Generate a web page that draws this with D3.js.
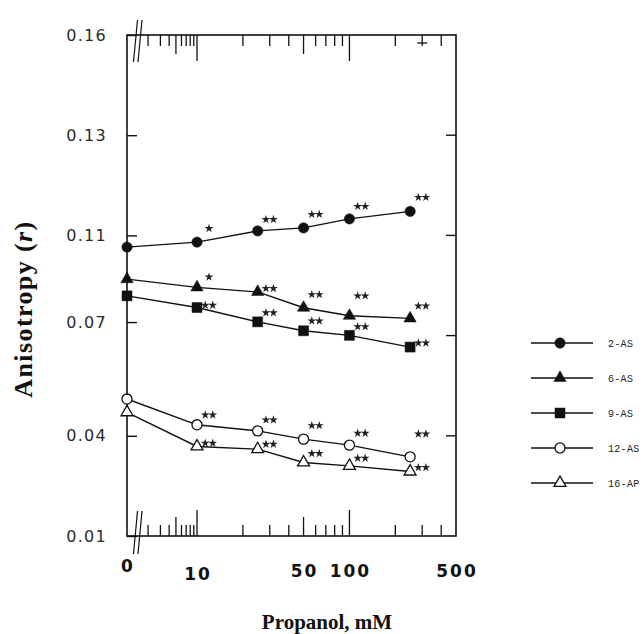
<!DOCTYPE html>
<html>
<head>
<meta charset="utf-8">
<script src="https://cdn.jsdelivr.net/npm/d3@7"></script>
<style>
  html, body { margin: 0; padding: 0; background: #fff; }
  svg { display: block; }
</style>
</head>
<body>
<div id="chart"></div>
<script>
// ---------------- data ----------------
const concentrations = [0, 10, 25, 50, 100, 250];           // Propanol, mM
const seriesNames = ["2-AS", "6-AS", "9-AS", "12-AS", "16-AP"];
const r2AS  = [0.1046, 0.1069, 0.1109, 0.1115, 0.1133, 0.1148];
const r6AS  = [0.0898, 0.0860, 0.0839, 0.0766, 0.0729, 0.0717];
const r9AS  = [0.0821, 0.0767, 0.0701, 0.0677, 0.0665, 0.0634];
const r12AS = [0.0497, 0.0429, 0.0413, 0.0390, 0.0372, 0.0337];
const r16AP = [0.0462, 0.0368, 0.0360, 0.0320, 0.0310, 0.0293];
// significance marks and where they sit (anisotropy units)
const sig2AS  = ["", "*", "**", "**", "**", "**"];
const sig6AS  = ["", "*", "**", "**", "**", "**"];
const sig9AS  = ["", "**", "**", "**", "**", "**"];
const sig12AS = ["", "**", "**", "**", "**", "**"];
const sig16AP = ["", "**", "**", "**", "**", "**"];
const star2AS  = [null, 0.1114, 0.1132, 0.1142, 0.1158, 0.1176];
const star6AS  = [null, 0.0908, 0.0855, 0.0827, 0.0821, 0.0774];
const star9AS  = [null, 0.0778, 0.0743, 0.0705, 0.0688, 0.0645];
const star12AS = [null, 0.0455, 0.0442, 0.0427, 0.0407, 0.0405];
const star16AP = [null, 0.0378, 0.0375, 0.0347, 0.0333, 0.0305];
// axes
const yTickValues = [0.01, 0.04, 0.07, 0.11, 0.13, 0.16];
const yTickLabels = ["0.01", "0.04", "0.07", "0.11", "0.13", "0.16"];
const xTickValues = [0, 10, 50, 100, 500];
const xTickLabels = ["0", "10", "50", "100", "500"];
const xLowMinor  = [2, 3, 4, 5, 6, 7, 8, 9];
const xMainMinor = [20, 30, 40, 50, 60, 70, 80, 90, 200, 300, 400];
const xMediumTicks = [5, 50];
const xLongTicks = [10, 100];

// ---------------- layout ----------------
const W = 643, H = 634;
const pLeft = 127, pRight = 456, pTop = 35, pBottom = 536;
const lowWidth = 70;

const svg = d3.select("#chart").append("svg")
  .attr("width", W).attr("height", H)
  .style("background", "#fff");

const xLow  = d3.scaleLog().domain([1, 10]).range([pLeft, pLeft + lowWidth]);
const xMain = d3.scaleLog().domain([10, 500]).range([pLeft + lowWidth, pRight]);
const x = v => v === 0 ? pLeft : (v < 10 ? xLow(v) : xMain(v));

const yFrac = [0, 0.2, 0.427, 0.6, 0.8, 1];
const y = d3.scaleLinear()
  .domain(yTickValues)
  .range(yFrac.map(f => pBottom - f * (pBottom - pTop)));

const ink = "#111";

// frame
svg.append("rect")
  .attr("x", pLeft).attr("y", pTop)
  .attr("width", pRight - pLeft).attr("height", pBottom - pTop)
  .attr("fill", "none").attr("stroke", ink).attr("stroke-width", 1.6);

// left axis with labels
const yAxis = d3.axisLeft(y)
  .tickValues(yTickValues)
  .tickFormat((d, i) => yTickLabels[i])
  .tickSizeInner(-10).tickSizeOuter(0).tickPadding(20);
const gy = svg.append("g").attr("transform", `translate(${pLeft},0)`).call(yAxis);
gy.select(".domain").remove();
gy.selectAll(".tick line").attr("stroke", ink).attr("stroke-width", 1.4);
gy.selectAll(".tick text")
  .attr("font-family", "DejaVu Sans, sans-serif")
  .attr("font-size", 16).attr("letter-spacing", 1.3)
  .attr("fill", "#2a2a2a");

// right axis ticks (inward)
const rightFrac = [0.2, 0.4, 0.6, 0.8];
svg.append("g").selectAll("line").data(rightFrac).join("line")
  .attr("x1", pRight).attr("x2", pRight - 10)
  .attr("y1", f => pBottom - f * (pBottom - pTop))
  .attr("y2", f => pBottom - f * (pBottom - pTop))
  .attr("stroke", ink).attr("stroke-width", 1.4);

// x ticks on top & bottom
function tickLen(v) {
  if (xLongTicks.includes(v)) return 26;
  if (xMediumTicks.includes(v)) return 19;
  return 11;
}
const allXTicks = xLowMinor.concat(xLongTicks, xMainMinor);
["bottom", "top"].forEach(side => {
  const y0 = side === "bottom" ? pBottom : pTop;
  const dir = side === "bottom" ? -1 : 1;
  svg.append("g").selectAll("line").data(allXTicks).join("line")
    .attr("x1", d => x(d)).attr("x2", d => x(d))
    .attr("y1", y0).attr("y2", d => y0 + dir * tickLen(d))
    .attr("stroke", ink).attr("stroke-width", 1.3);
});
// small crossbar on the top 300 tick
svg.append("line")
  .attr("x1", x(300) - 5).attr("x2", x(300) + 5)
  .attr("y1", pTop + 8).attr("y2", pTop + 8)
  .attr("stroke", ink).attr("stroke-width", 1.3);

// axis break marks
[[pTop, -15, 27], [pBottom, -25, 18]].forEach(([yb, a, b]) => {
  [0, 4.5].forEach(off => {
    svg.append("line")
      .attr("x1", pLeft + 10.5 + off).attr("y1", yb + a)
      .attr("x2", pLeft + 6.5 + off).attr("y2", yb + b)
      .attr("stroke", ink).attr("stroke-width", 1.2);
  });
});

// x tick labels
svg.append("g").selectAll("text").data(xTickValues).join("text")
  .attr("x", d => x(d) + 1)
  .attr("y", (d, i) => i === 0 ? 572 : (i === 1 ? 580 : 577))
  .attr("text-anchor", "middle")
  .attr("font-family", "DejaVu Sans, sans-serif")
  .attr("font-weight", "bold")
  .attr("font-size", 17).attr("letter-spacing", 2)
  .attr("fill", ink)
  .text((d, i) => xTickLabels[i]);

// axis titles
svg.append("text")
  .attr("x", 327).attr("y", 629)
  .attr("text-anchor", "middle")
  .attr("font-family", "Liberation Serif, Times New Roman, serif")
  .attr("font-weight", "bold").attr("font-size", 21)
  .attr("fill", ink)
  .text("Propanol, mM");

const yt = svg.append("text")
  .attr("font-family", "Liberation Serif, Times New Roman, serif")
  .attr("font-weight", "bold").attr("font-size", 26)
  .attr("letter-spacing", 1.4)
  .attr("fill", ink);
yt.append("tspan").text("Anisotropy (");
yt.append("tspan").attr("font-style", "italic").text("r");
yt.append("tspan").text(")");
const ytLen = yt.node().getComputedTextLength();
yt.attr("transform", `translate(32,${309 + ytLen / 2}) rotate(-90)`);

// ---------------- series ----------------
const seriesValues = [r2AS, r6AS, r9AS, r12AS, r16AP];
const seriesSig = [sig2AS, sig6AS, sig9AS, sig12AS, sig16AP];
const seriesStar = [star2AS, star6AS, star9AS, star12AS, star16AP];
const seriesSymbol = [d3.symbolCircle, d3.symbolTriangle, d3.symbolSquare, d3.symbolCircle, d3.symbolTriangle];
const seriesSize = [85, 66, 100, 80, 62];
const seriesFilled = [true, true, true, false, false];

const line = d3.line().x(d => x(d[0])).y(d => y(d[1]));

seriesValues.forEach((vals, s) => {
  const pts = concentrations.map((c, i) => [c, vals[i]]);
  svg.append("path").datum(pts)
    .attr("d", line).attr("fill", "none")
    .attr("stroke", ink).attr("stroke-width", 1.4);
});
seriesValues.forEach((vals, s) => {
  const pts = concentrations.map((c, i) => [c, vals[i]]);
  svg.append("g").selectAll("path").data(pts).join("path")
    .attr("transform", d => `translate(${x(d[0])},${y(d[1])})`)
    .attr("d", d3.symbol().type(seriesSymbol[s]).size(seriesSize[s]))
    .attr("fill", seriesFilled[s] ? ink : "#fff")
    .attr("stroke", ink).attr("stroke-width", seriesFilled[s] ? 0.5 : 1.3);
});

// significance stars
const starSym = d3.symbol().type(d3.symbolStar).size(24);
seriesValues.forEach((vals, s) => {
  concentrations.forEach((c, i) => {
    const mark = seriesSig[s][i];
    if (!mark) return;
    const cx = x(c) + 12, cy = y(seriesStar[s][i]);
    const n = mark.length;
    for (let k = 0; k < n; k++) {
      svg.append("path")
        .attr("transform", `translate(${cx + (k - (n - 1) / 2) * 7.5},${cy})`)
        .attr("d", starSym())
        .attr("fill", "#222");
    }
  });
});

// ---------------- legend ----------------
const legY = d3.scalePoint().domain(seriesNames).range([343, 483]);
const lg = svg.append("g");
seriesNames.forEach((name, s) => {
  const yy = legY(name);
  lg.append("line").attr("x1", 531).attr("x2", 593)
    .attr("y1", yy).attr("y2", yy)
    .attr("stroke", ink).attr("stroke-width", 1.4);
  lg.append("path")
    .attr("transform", `translate(560,${yy})`)
    .attr("d", d3.symbol().type(seriesSymbol[s]).size(seriesSize[s]))
    .attr("fill", seriesFilled[s] ? ink : "#fff")
    .attr("stroke", ink).attr("stroke-width", seriesFilled[s] ? 0.5 : 1.3);
  lg.append("text")
    .attr("x", 608).attr("y", yy + 3.5)
    .attr("font-family", "Liberation Mono, Courier New, monospace")
    .attr("font-size", 10).attr("letter-spacing", 0.3)
    .attr("fill", "#222")
    .text(name);
});
</script>
</body>
</html>
